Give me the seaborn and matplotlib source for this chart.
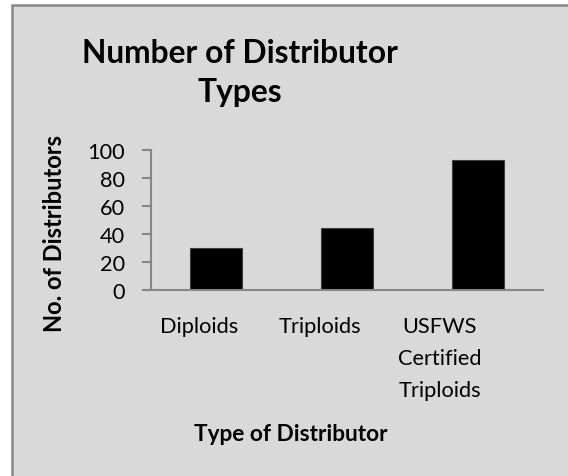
import numpy as np
import pandas as pd
import seaborn as sns
from matplotlib import pyplot as plt
from matplotlib.patches import Rectangle
from matplotlib import transforms

# data
categories = ['Diploids', 'Triploids', 'USFWS\nCertified\nTriploids']
counts = [30, 44, 93]
yticks = [0, 20, 40, 60, 80, 100]

GREY_BG = '#d9d9d9'
AXIS_COL = '#868686'

sns.set_style('white', {'axes.facecolor': GREY_BG, 'text.color': 'black',
                        'axes.labelcolor': 'black', 'xtick.color': 'black', 'ytick.color': 'black'})
plt.rcParams['font.family'] = ['Lato', 'DejaVu Sans']

df = pd.DataFrame({'Type': categories, 'Count': counts})

fig = plt.figure(figsize=(5.68, 4.77), dpi=100)
fig.patch.set_facecolor('white')

# chart area with grey fill and border (cropped at right/bottom)
fig.patches.append(Rectangle((11.5/568, -0.1), 1.2, 1.1 - 6/477,
                             transform=fig.transFigure, facecolor=GREY_BG,
                             edgecolor=AXIS_COL, linewidth=1.8, zorder=-5))

ax = fig.add_axes([151/568, 1 - 291/477, 392/568, 140/477])
ax.set_zorder(2)
ax.patch.set_alpha(0)

sns.barplot(data=df, x='Type', y='Count', color='black', width=0.4,
            edgecolor='#404040', linewidth=0.8, saturation=1, ax=ax)

ax.set_ylim(0, 100)
ax.set_xlim(-0.5, 2.5)
ax.set_yticks(yticks)
sns.despine(ax=ax)
for side in ['left', 'bottom']:
    ax.spines[side].set_color(AXIS_COL)
    ax.spines[side].set_linewidth(1.5)

ax.tick_params(axis='y', direction='out', length=6.5, width=1.5, color=AXIS_COL,
               pad=12, labelsize=15.7, labelcolor='black', left=True)
ax.tick_params(axis='x', length=0, pad=19, labelsize=15.7, labelcolor='black')
for lab in ax.get_xticklabels():
    lab.set_linespacing(1.75)

# Excel shifted the category labels a bit to the left
shifts = [-17, -27, -38]
for lab, dx in zip(ax.get_xticklabels(), shifts):
    lab.set_transform(lab.get_transform() + transforms.ScaledTranslation(dx/100, 0, fig.dpi_scale_trans))

ax.set_xlabel('Type of Distributor', fontsize=16.3, fontweight='bold')
ax.xaxis.set_label_coords(0.357, -0.95)
ax.set_ylabel('No. of Distributors', fontsize=17, fontweight='bold')
ax.yaxis.set_label_coords(-0.217, 0.414)

fig.text(240/568, 1 - 73/477, 'Number of Distributor\nTypes', ha='center', va='center',
         fontsize=22.9, fontweight='bold', linespacing=1.4, color='black')

fig.savefig('out.png', dpi=100)
